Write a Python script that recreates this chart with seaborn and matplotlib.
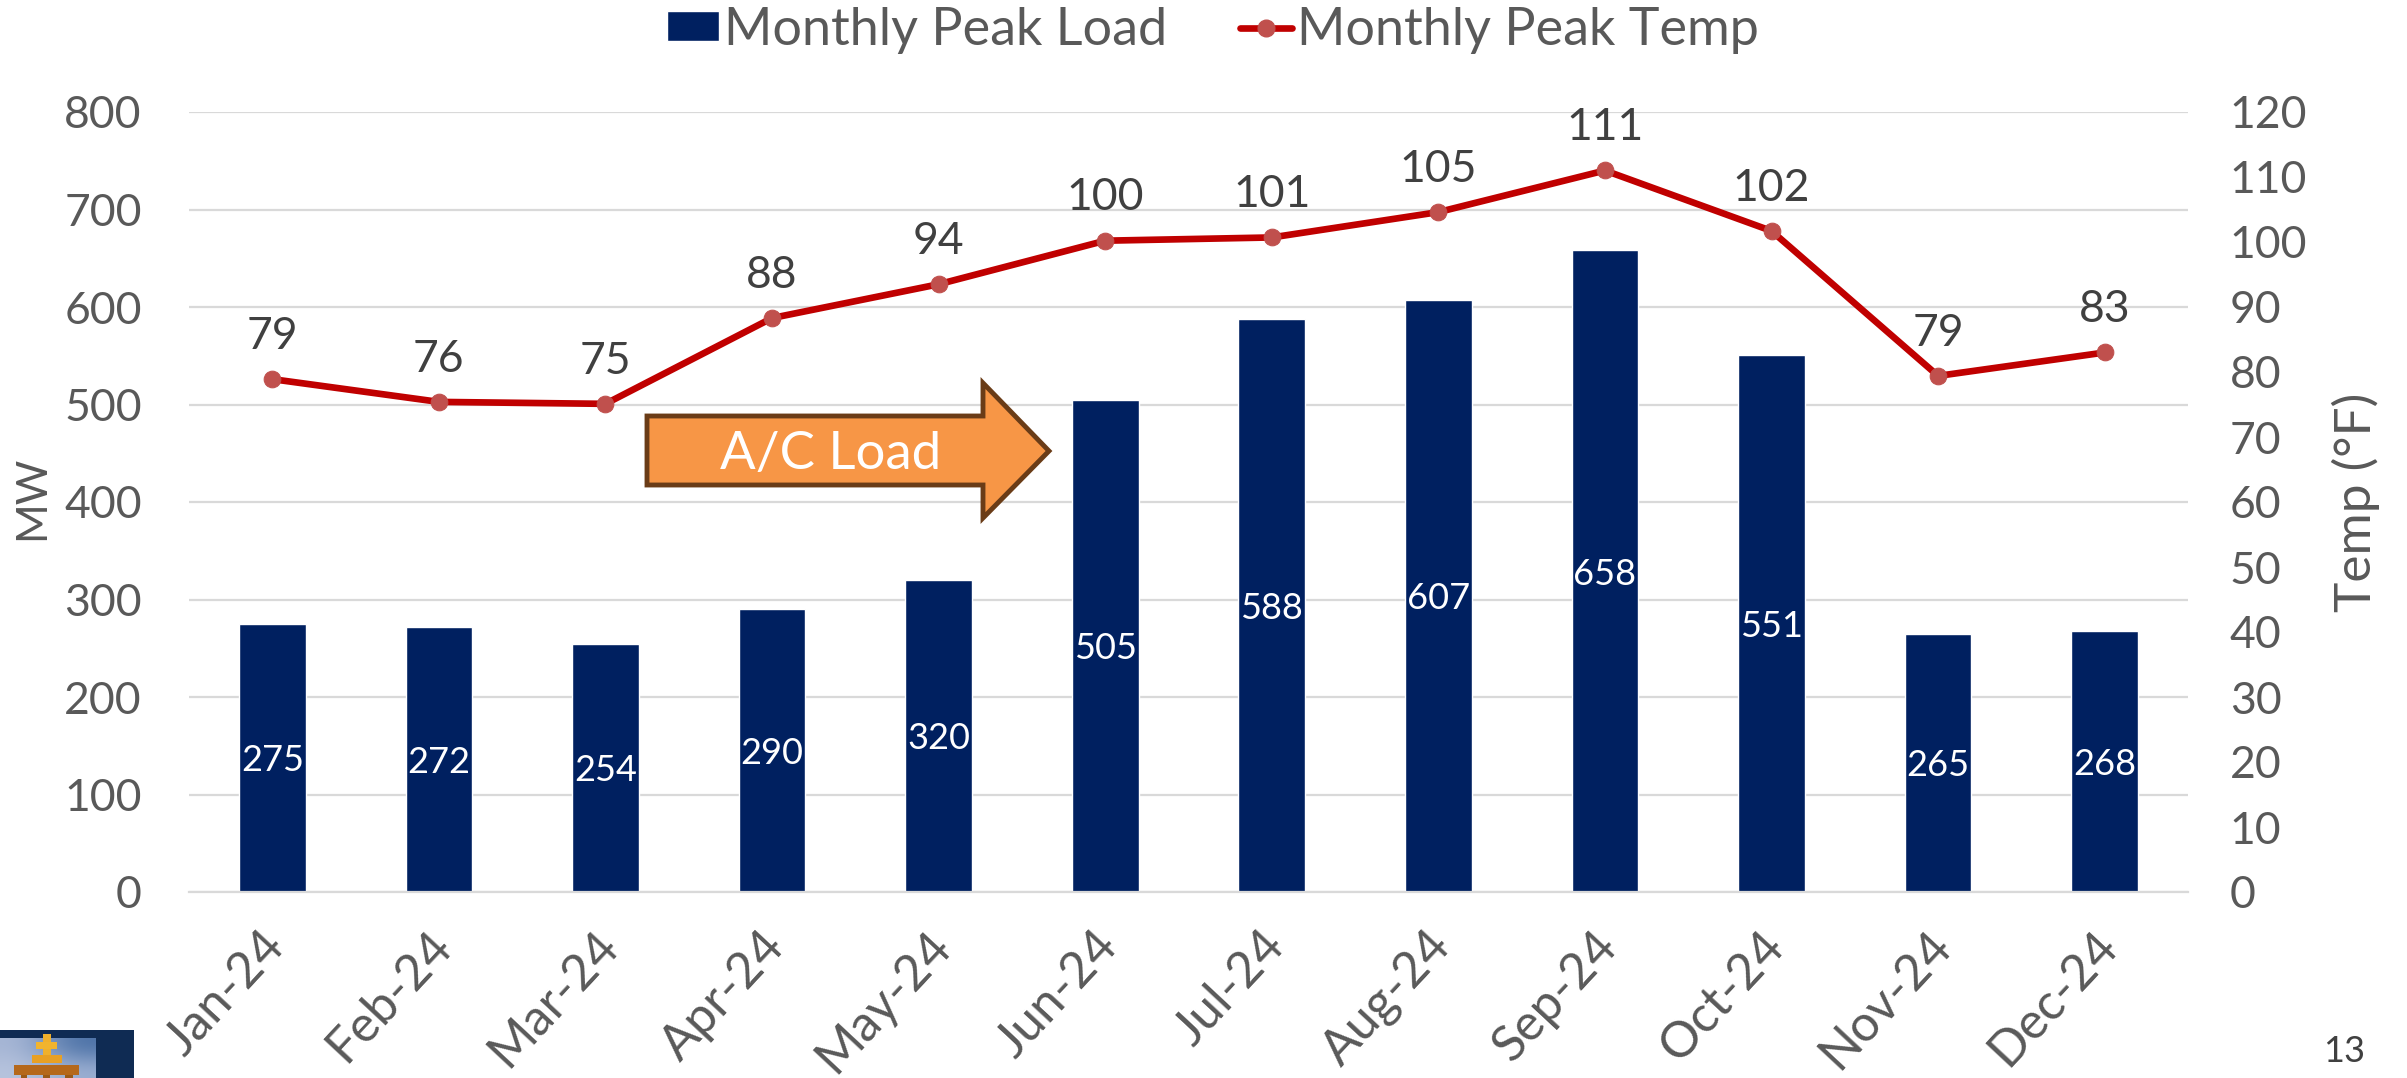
import numpy as np
import pandas as pd
import seaborn as sns
import matplotlib
matplotlib.use('Agg')
import matplotlib.pyplot as plt
from matplotlib.patches import Polygon, Rectangle
from matplotlib.lines import Line2D
from matplotlib.transforms import ScaledTranslation

months = ['Jan-24', 'Feb-24', 'Mar-24', 'Apr-24', 'May-24', 'Jun-24',
          'Jul-24', 'Aug-24', 'Sep-24', 'Oct-24', 'Nov-24', 'Dec-24']
peak_load = [275, 272, 254, 290, 320, 505, 588, 607, 658, 551, 265, 268]
peak_temp = [78.9, 75.4, 75.1, 88.3, 93.5, 100.2, 100.7, 104.6, 111.0, 101.7, 79.4, 83.0]  # as plotted
temp_labels = [79, 76, 75, 88, 94, 100, 101, 105, 111, 102, 79, 83]
mw_ticks = [0, 100, 200, 300, 400, 500, 600, 700, 800]
temp_ticks = [0, 10, 20, 30, 40, 50, 60, 70, 80, 90, 100, 110, 120]

W, H = 2407, 1078
NAVY = '#002060'
GREY = '#595959'
DARK = '#404040'

sns.set_theme(style='white')
plt.rcParams['font.family'] = ['Lato', 'DejaVu Sans']

df = pd.DataFrame({'month': months, 'load': peak_load, 'temp': peak_temp})


def px(x, y):
    # reference pixels to figure fractions
    return x / W, 1 - y / H


fig = plt.figure(figsize=(W / 100, H / 100), dpi=100, facecolor='white')
ax = fig.add_axes([189 / W, 1 - 892 / H, (2188 - 189) / W, (892 - 112) / H])

sns.barplot(data=df, x='month', y='load', color=NAVY, width=0.4, saturation=1, ax=ax, zorder=2)
ax.set_xlim(-0.5, 11.5)
ax.set_ylim(0, 800)
ax.set_yticks(mw_ticks)
ax.yaxis.grid(True, color='#d9d9d9', lw=1.6)
ax.set_axisbelow(True)
ax.set_xlabel('')
ax.set_ylabel('MW', fontsize=31, color=GREY)
ax.yaxis.set_label_coords(-0.069, 0.505)
ax.tick_params(axis='y', length=0, labelsize=32, labelcolor=GREY, pad=34)
ax.tick_params(axis='x', length=0, labelsize=36, labelcolor=GREY, pad=22)
plt.setp(ax.get_xticklabels(), rotation=47, ha='right', rotation_mode='anchor')
shift = ScaledTranslation(-12 / 100, 0, fig.dpi_scale_trans)
for lab in ax.get_xticklabels():
    lab.set_transform(lab.get_transform() + shift)
sns.despine(ax=ax, left=True, right=True, top=True, bottom=False)
ax.spines['bottom'].set_color('#d9d9d9')
ax.spines['bottom'].set_linewidth(1.6)

for i, v in enumerate(peak_load):
    ax.annotate(str(v), (i, v / 2), xytext=(0, -2), textcoords='offset points', ha='center', va='center',
                color='white', fontsize=26, zorder=4)

ax2 = ax.twinx()
sns.lineplot(data=df, x='month', y='temp', color='#c00000', lw=4.8, marker='o', markersize=12,
             markerfacecolor='#c0504d', markeredgecolor='#c0504d', ax=ax2, zorder=5, sort=False)
ax2.set_ylim(0, 120)
ax2.set_yticks(temp_ticks)
ax2.set_xlabel('')
ax2.set_ylabel('Temp (°F)', fontsize=37, color=GREY)
ax2.yaxis.set_label_coords(1.072, 0.5)
ax2.tick_params(axis='y', length=0, labelsize=32, labelcolor=GREY, pad=30)
ax2.grid(False)
sns.despine(ax=ax2, left=True, right=True, top=True, bottom=True)

for i, v in enumerate(peak_temp):
    ax2.annotate(str(temp_labels[i]), (i, v), xytext=(0, 16), textcoords='offset points', ha='center', va='bottom',
                 color=DARK, fontsize=32, zorder=6)

# A/C Load arrow
arrow = [(647, 416), (983, 416), (983, 383), (1049, 451), (983, 518), (983, 485), (647, 485)]
fig.add_artist(Polygon([px(*p) for p in arrow], closed=True, transform=fig.transFigure, facecolor='#f79646',
                       edgecolor='#6a3c17', lw=3.5, joinstyle='miter', zorder=10))
fig.text(*px(831, 454), 'A/C Load', color='white', fontsize=38, ha='center', va='center', zorder=11)

# legend
handles = [Rectangle((0, 0), 1, 1, facecolor=NAVY),
           Line2D([0], [0], color='#c00000', lw=4.8, marker='o', markersize=12,
                  markerfacecolor='#c0504d', markeredgecolor='#c0504d')]
fig.legend(handles, ['Monthly Peak Load', 'Monthly Peak Temp'], loc='center', bbox_to_anchor=px(1213, 30),
           ncol=2, frameon=False, fontsize=37.5, labelcolor=GREY, handlelength=1.0, handletextpad=0.1,
           columnspacing=1.4, handleheight=0.5)

# corner logo and page number
fig.add_artist(Rectangle(px(0, 1078), 134 / W, 48 / H, transform=fig.transFigure, facecolor='#0f2b53', lw=0))
logo = fig.add_axes([0, 0, 96 / W, 40 / H], zorder=12)
logo.imshow([[[0.66, 0.72, 0.84], [0.29, 0.44, 0.65]], [[0.72, 0.77, 0.87], [0.6, 0.68, 0.82]]],
            aspect='auto', interpolation='bicubic')
logo.axis('off')
for x, y, w, h, c in [(43, 1034, 8, 29, '#f0b02c'), (36, 1042, 21, 7, '#f2b42e'), (32, 1055, 30, 8, '#e8a024'),
                      (14, 1065, 65, 10, '#b5681b'), (21, 1075, 6, 3, '#9a5a18'), (43, 1075, 7, 3, '#9a5a18'),
                      (65, 1075, 8, 3, '#9a5a18')]:
    fig.add_artist(Rectangle(px(x, y + h), w / W, h / H, transform=fig.transFigure, facecolor=c, lw=0, zorder=13))
fig.text(*px(2344, 1051), '13', color=DARK, fontsize=26, ha='center', va='center')

fig.savefig('out.png', dpi=100)
